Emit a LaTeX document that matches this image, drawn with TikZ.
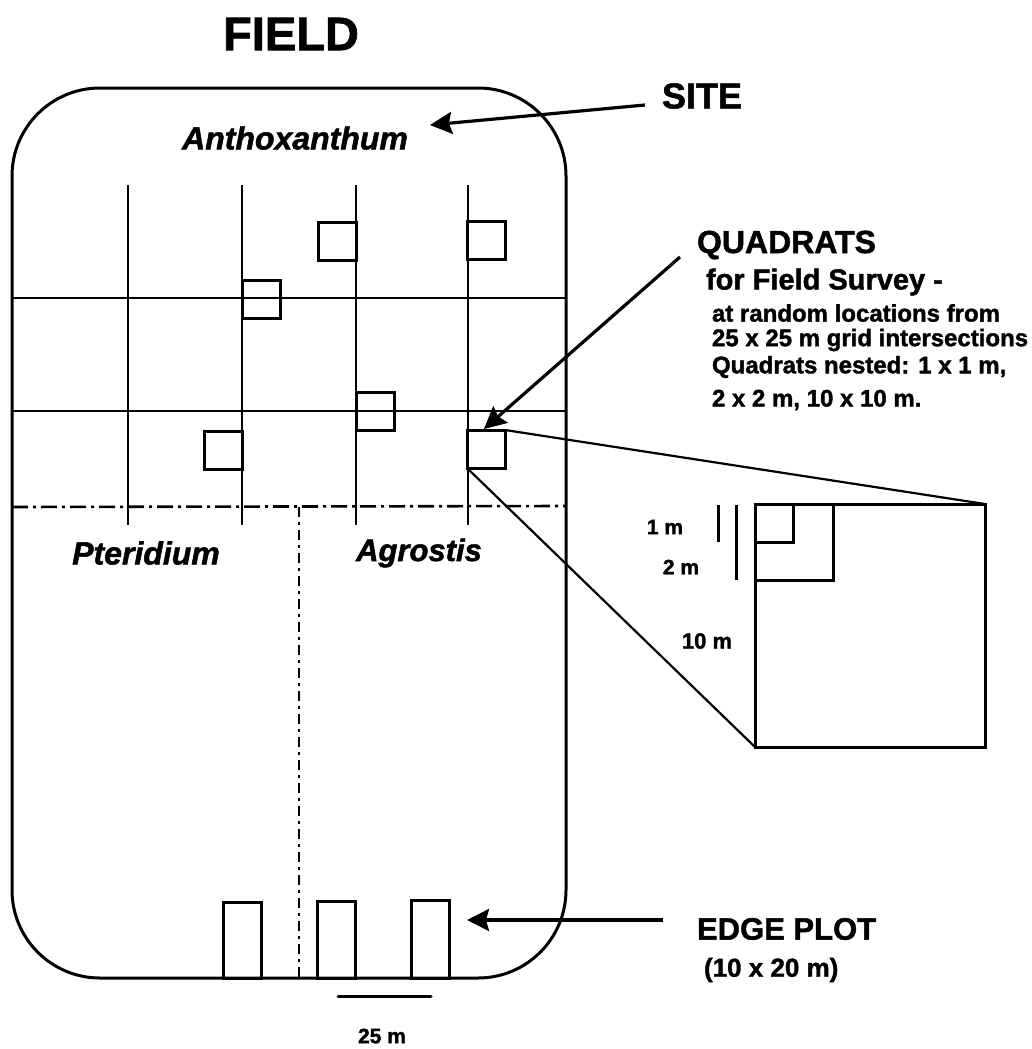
\documentclass[tikz,border=0pt]{standalone}
\usepackage{fontspec}
\setmainfont{Liberation Sans}[BoldFeatures={FakeBold=1.5},BoldItalicFeatures={FakeBold=1.5}]
\usetikzlibrary{arrows.meta}
\newcommand{\fs}[1]{\fontsize{#1}{#1}\selectfont\bfseries}
\tikzset{
  x=1pt,y=-1pt,
  gridl/.style={line width=1.8pt,black},
  heavy/.style={line width=3pt,black},
  divl/.style={line width=2.6pt,black,dash pattern=on 16pt off 5pt on 3pt off 5pt},
  divv/.style={line width=2.4pt,black,dash pattern=on 10pt off 5pt on 3pt off 5pt},
  quad/.style={draw,line width=3pt,minimum width=38pt,minimum height=38pt,inner sep=0pt,outer sep=0pt},
  eplot/.style={draw,line width=3pt,minimum width=38pt,inner sep=0pt,outer sep=0pt,anchor=south},
  nest/.style={draw,line width=3pt,inner sep=0pt,outer sep=0pt,anchor=north west},
  zoomline/.style={line width=2.2pt,black},
  lab/.style={anchor=west,inner sep=0pt,outer sep=0pt,font=\fs{#1}},
  cen/.style={inner sep=0pt,outer sep=0pt,font=\fs{#1}},
  spec/.style={inner sep=0pt,outer sep=0pt,font=\fontsize{#1}{#1}\selectfont\bfseries\itshape},
  pointer/.style={line width=3.2pt,-{Stealth[length=22pt,width=22pt,inset=3pt]}}
}
\begin{document}
\begin{tikzpicture}
\useasboundingbox (0,0) rectangle (1031,1049);
% field outline
\draw[heavy,rounded corners=88pt] (12,88) rectangle (566,978);
% grid
\foreach \n/\gx in {a/128,b/242,c/356,d/468}{
  \coordinate (v\n t) at (\gx,185);
  \coordinate (v\n b) at (\gx,525);
  \draw[gridl] (v\n t) -- (v\n b);
}
\foreach \n/\gy in {a/298,b/411}{
  \coordinate (h\n l) at (12,\gy);
  \coordinate (h\n r) at (566,\gy);
  \draw[gridl] (h\n l) -- (h\n r);
}
% dividers
\coordinate (dl) at (12,507);
\coordinate (dr) at (566,506);
\coordinate (dt) at (299,507);
\coordinate (db) at (299,978);
\draw[divl] (dl) -- (dr);
\draw[divv] (dt) -- (db);
% quadrats
\node[quad] (q1) at (337,241) {};
\node[quad] (q2) at (486,240) {};
\node[quad] (q3) at (261,299) {};
\node[quad] (q4) at (375,411) {};
\node[quad] (q5) at (223,450) {};
\node[quad] (q6) at (486,449) {};
% nested quadrat
\node[nest,minimum width=230pt,minimum height=243pt] (big) at (755,504) {};
\node[nest,minimum width=78pt,minimum height=76pt] (mid) at (755,504) {};
\node[nest,minimum width=38pt,minimum height=38pt] (small) at (755,504) {};
\draw[zoomline] (q6.north east) -- (big.north east);
\draw[zoomline] (q6.south west) -- (big.south west);
% size ticks
\coordinate (t1t) at (718,505);
\coordinate (t1b) at (718,542);
\coordinate (t2t) at (736,505);
\coordinate (t2b) at (736,580);
\draw[heavy] (t1t) -- (t1b);
\draw[heavy] (t2t) -- (t2b);
\node[cen=21] (m1) at (665,527) {1 m};
\node[cen=21] (m2) at (681,567) {2 m};
\node[cen=22] (m10) at (707,641) {10 m};
% edge plots
\node[eplot,minimum height=76pt] (e1) at (242,978) {};
\node[eplot,minimum height=77pt] (e2) at (336,978) {};
\node[eplot,minimum height=78pt] (e3) at (430,978) {};
% scale bar
\coordinate (sl) at (338,996);
\coordinate (sr) at (431,996);
\draw[line width=3pt,line cap=round] (sl) -- (sr);
\node[cen=21] (sc) at (382,1036) {25 m};
% titles
\node[cen=47] (field) at (291,34) {FIELD};
\node[cen=36] (site) at (702,96) {SITE};
\node[lab=32] (quads) at (697,245) {QUADRATS};
\node[lab=29] (fsurv) at (706,282) {for Field Survey -};
\node[lab=24] (l1) at (712,313) {at random locations from};
\node[lab=24] (l2) at (712,340) {25 x 25 m grid intersections};
\node[lab=24] (l3) at (712,367) {Quadrats nested: 1 x 1 m,};
\node[lab=24] (l4) at (712,400) {2 x 2 m, 10 x 10 m.};
\node[lab=31] (edge) at (697,929) {EDGE PLOT};
\node[lab=26] (edge2) at (704,970) {(10 x 20 m)};
% species
\node[spec=32] (sa) at (295,138) {Anthoxanthum};
\node[spec=32] (sp) at (146,553) {Pteridium};
\node[spec=31] (sg) at (419,553) {Agrostis};
% arrows
\coordinate (a1) at (645,105);
\coordinate (a2) at (680,257);
\coordinate (a3) at (663,920);
\coordinate (a1e) at (430,125);
\coordinate (a2e) at (484,429);
\coordinate (a3e) at (467,920);
\draw[pointer] (a1) -- (a1e);
\draw[pointer] (a2) -- (a2e);
\draw[pointer] (a3) -- (a3e);
\end{tikzpicture}
\end{document}
